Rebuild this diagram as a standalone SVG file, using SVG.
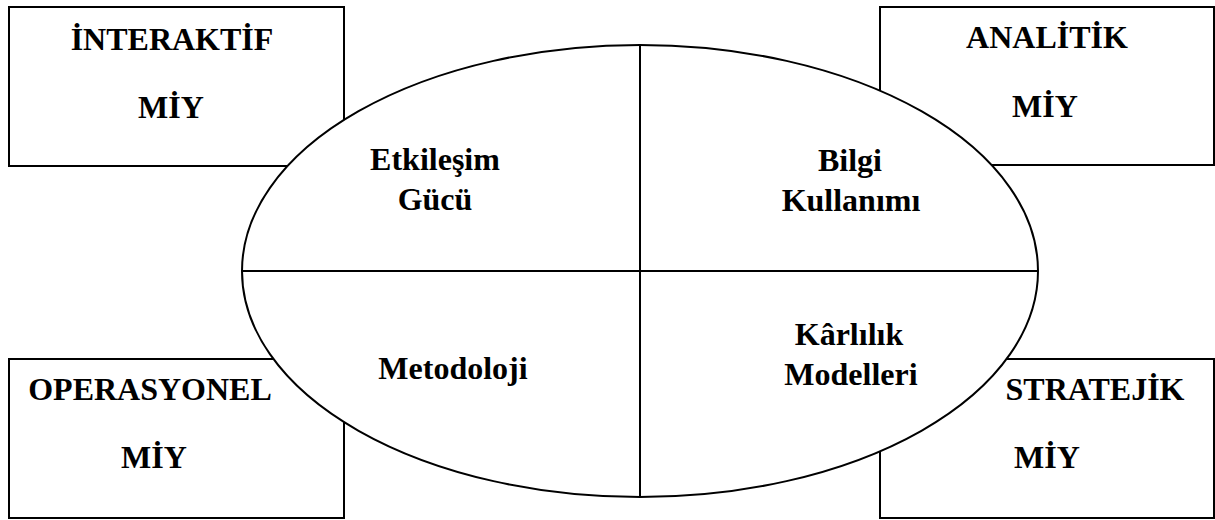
<svg xmlns="http://www.w3.org/2000/svg" width="1215" height="520" viewBox="0 0 1215 520">
<style>
.box{fill:#fff;stroke:#000;stroke-width:2}
.ell{fill:#fff;stroke:#000;stroke-width:2}
.ln{stroke:#000;stroke-width:2;fill:none}
text{font-family:"Liberation Serif","Times New Roman",serif;font-weight:bold;fill:#000;text-anchor:middle}
.bt{font-size:32px}
.et{font-size:32px}
</style>
<rect width="1215" height="520" fill="#fff"/>
<g id="node-interaktif">
<rect class="box" x="9" y="7" width="335" height="159"/>
<text class="bt" x="172" y="50">İNTERAKTİF</text>
<text class="bt" x="171" y="118">MİY</text>
</g>
<g id="node-analitik">
<rect class="box" x="880" y="7" width="334" height="158"/>
<text class="bt" x="1047" y="48">ANALİTİK</text>
<text class="bt" x="1045" y="117">MİY</text>
</g>
<g id="node-operasyonel">
<rect class="box" x="9" y="359" width="335" height="159"/>
<text class="bt" x="150" y="400">OPERASYONEL</text>
<text class="bt" x="154" y="468">MİY</text>
</g>
<g id="node-stratejik">
<rect class="box" x="880" y="359" width="334" height="159"/>
<text class="bt" x="1095" y="400">STRATEJİK</text>
<text class="bt" x="1047" y="468">MİY</text>
</g>
<g id="node-ellipse">
<ellipse class="ell" cx="640" cy="271" rx="398" ry="226"/>
</g>
<g id="connectors">
<line class="ln" x1="640" y1="45" x2="640" y2="497"/>
<line class="ln" x1="242" y1="271" x2="1038" y2="271"/>
</g>
<g id="node-etkilesim">
<text class="et" x="435" y="170">Etkileşim</text>
<text class="et" x="435" y="210">Gücü</text>
</g>
<g id="node-bilgi">
<text class="et" x="850" y="171">Bilgi</text>
<text class="et" x="851" y="211">Kullanımı</text>
</g>
<g id="node-metodoloji">
<text class="et" x="453" y="379">Metodoloji</text>
</g>
<g id="node-karlilik">
<text class="et" x="849" y="345">Kârlılık</text>
<text class="et" x="851" y="385">Modelleri</text>
</g>
</svg>
